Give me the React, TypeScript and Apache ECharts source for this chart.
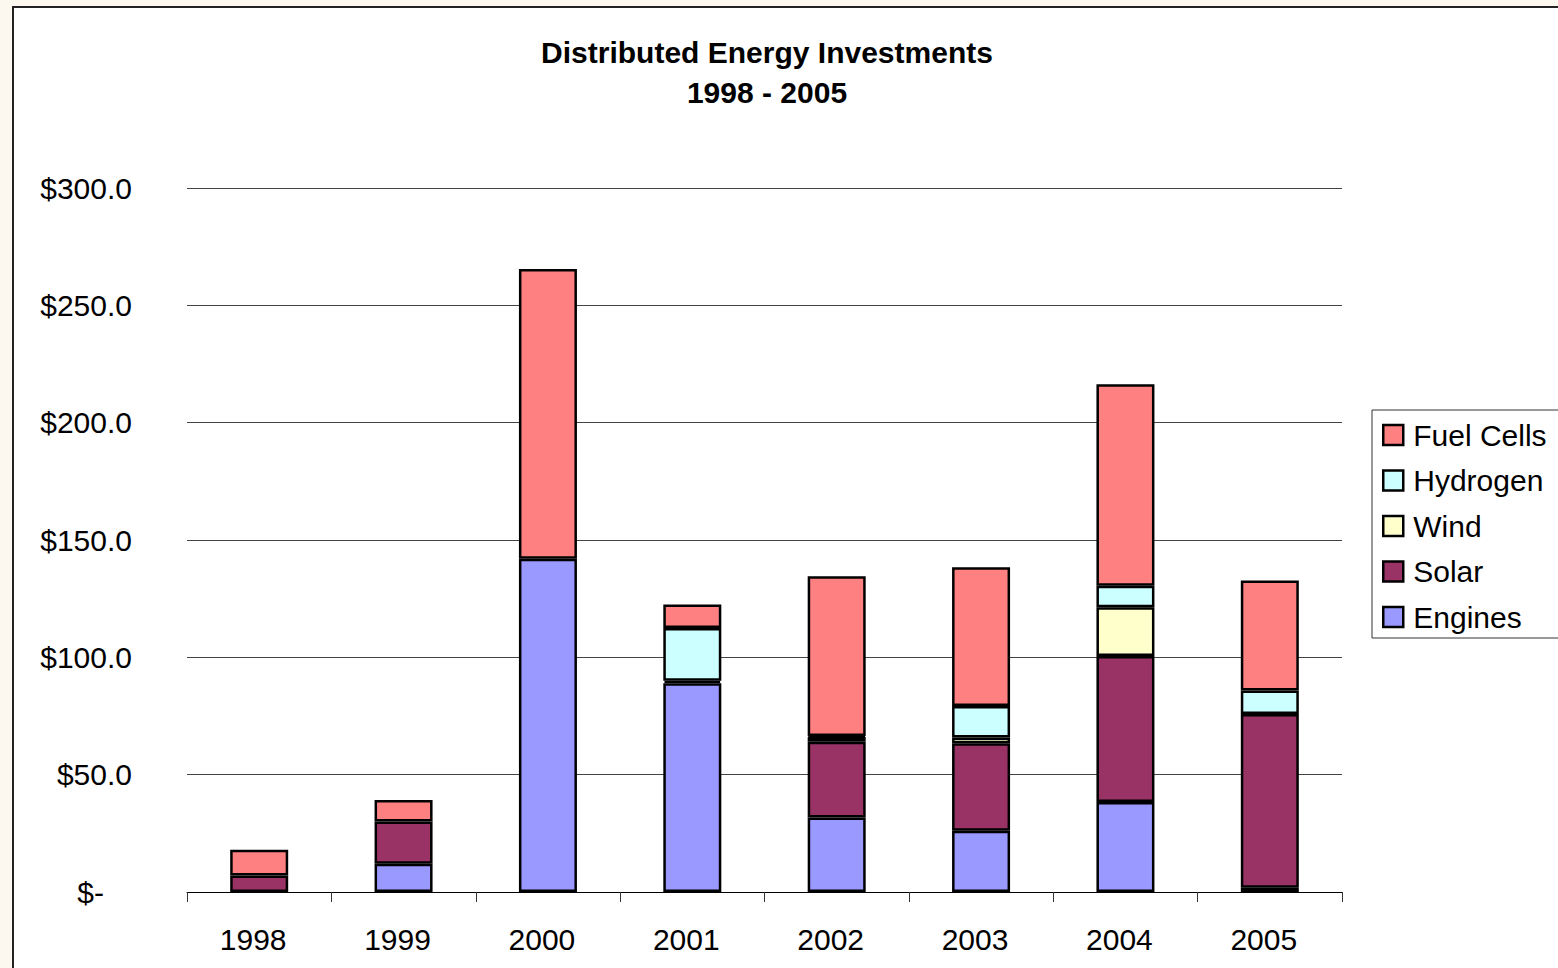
import React, { useEffect, useRef } from "react";
import * as echarts from "echarts";

const years = ["1998", "1999", "2000", "2001", "2002", "2003", "2004", "2005"];
const engines = [null, 12, 142, 89, 31.7, 26.1, 38.4, 1.8];
const solar = [7, 18, null, 1, 32.3, 37.3, 62.2, 74.1];
const wind = [null, null, null, null, 2, 2.4, 20.7, null];
const hydrogen = [null, null, null, 22.5, 0.5, 13.5, 9.2, 10];
const fuelCells = [11, 9.2, 123.5, 10, 68, 59.1, 85.9, 46.8];

const FONT = "'Liberation Sans', Arial, sans-serif";

export default function App() {
  const ref = useRef<HTMLDivElement>(null);
  useEffect(() => {
    document.body.style.margin = "0";
    const chart = echarts.init(ref.current!, null, { renderer: "svg" });
    const mk = (name: string, data: (number | null)[], color: string) => ({
      name,
      type: "bar",
      stack: "total",
      data: data.map((v) => (v === null ? "-" : v)),
      barWidth: 58,
      itemStyle: { color, borderColor: "#000", borderWidth: 2.5 },
    });
    chart.setOption({
      animation: false,
      backgroundColor: "transparent",
      textStyle: { fontFamily: FONT },
      title: {
        text: "Distributed Energy Investments\n1998 - 2005",
        left: 762,
        top: 27,
        textAlign: "center",
        textStyle: { fontFamily: FONT, fontSize: 30, fontWeight: "bold", color: "#000", lineHeight: 40 },
      },
      legend: {
        orient: "vertical",
        left: 1372,
        top: 410,
        data: ["Fuel Cells", "Hydrogen", "Wind", "Solar", "Engines"],
        icon: "rect",
        itemWidth: 20,
        itemHeight: 20,
        itemGap: 11.5,
        padding: [8, 40, 4, 10],
        borderColor: "#333",
        borderWidth: 1,
        backgroundColor: "#fff",
        itemStyle: { borderColor: "#000", borderWidth: 2.5 },
        textStyle: { fontFamily: FONT, fontSize: 30, color: "#000", lineHeight: 34, padding: [0, 0, 0, 5] },
      },
      grid: { left: 187, right: 216, top: 188, bottom: 76 },
      xAxis: {
        type: "category",
        data: years,
        axisLine: { lineStyle: { color: "#000", width: 1 } },
        axisTick: { show: true, length: 10, lineStyle: { color: "#333" } },
        axisLabel: { fontFamily: FONT, fontSize: 30, color: "#000", margin: 32, padding: [0, 12, 0, 0] },
      },
      yAxis: {
        type: "value",
        min: 0,
        max: 300,
        interval: 50,
        axisLine: { show: false },
        axisTick: { show: false },
        splitLine: { lineStyle: { color: "#444", width: 1 } },
        axisLabel: {
          fontFamily: FONT,
          fontSize: 30,
          color: "#000",
          margin: 55,
          formatter: (v: number) => (v === 0 ? "{z|$-}" : "$" + v.toFixed(1)),
          rich: { z: { fontFamily: FONT, fontSize: 30, color: "#000", padding: [0, 28, 0, 0] } },
        },
      },
      series: [
        mk("Engines", engines, "#9999FF"),
        mk("Solar", solar, "#993366"),
        mk("Wind", wind, "#FFFFCC"),
        mk("Hydrogen", hydrogen, "#CCFFFF"),
        mk("Fuel Cells", fuelCells, "#FF8080"),
      ],
    });
    return () => chart.dispose();
  }, []);
  return (
    <div style={{ position: "relative", width: 1558, height: 968, background: "#FCF8F0", overflow: "hidden" }}>
      <div
        style={{
          position: "absolute",
          left: 12,
          top: 6,
          width: 1600,
          height: 1000,
          background: "#fff",
          border: "2px solid #222",
        }}
      />
      <div ref={ref} style={{ position: "absolute", left: 0, top: 0, width: 1558, height: 968 }} />
    </div>
  );
}
